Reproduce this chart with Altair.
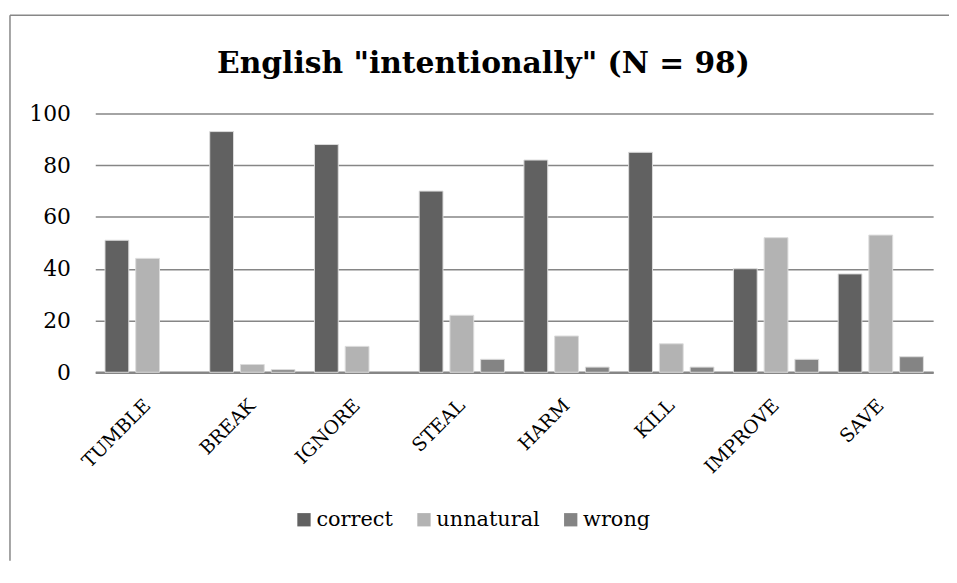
import altair as alt
import pandas as pd

categories = ["TUMBLE", "BREAK", "IGNORE", "STEAL", "HARM", "KILL", "IMPROVE", "SAVE"]
correct = [51, 93, 88, 70, 82, 85, 40, 38]
unnatural = [44, 3, 10, 22, 14, 11, 52, 53]
wrong = [0, 1, 0, 5, 2, 2, 5, 6]
series = ["correct", "unnatural", "wrong"]
colors = ["#616161", "#b3b3b3", "#848484"]
y_ticks = [0, 20, 40, 60, 80, 100]
title_text = 'English "intentionally" (N = 98)'

rows = []
for i, c in enumerate(categories):
    for s, vals in zip(series, [correct, unnatural, wrong]):
        rows.append({"verb": c, "answer": s, "value": vals[i]})
df = pd.DataFrame(rows)

FONT = "DejaVu Serif"
W, H = 845, 261
PAD = {"left": 88, "top": 104, "right": 16, "bottom": 190}

bars = alt.Chart(df).mark_bar(stroke="#dcdcdc").encode(
    x=alt.X("verb:N", sort=categories,
            scale=alt.Scale(paddingInner=0.186, paddingOuter=0.093),
            axis=alt.Axis(title=None, labelAngle=315, labelAlign="right",
                          labelBaseline="middle", labelPadding=30,
                          labelFont=FONT, labelFontSize=19, labelColor="#000000",
                          ticks=False, domainColor="#868686", domainWidth=2.5,
                          grid=False)),
    xOffset=alt.XOffset("answer:N", sort=series,
                        scale=alt.Scale(paddingInner=0.226, paddingOuter=0)),
    y=alt.Y("value:Q", scale=alt.Scale(domain=[0, 100]),
            axis=alt.Axis(title=None, values=y_ticks, ticks=False, domain=False,
                          labelPadding=25, labelFont=FONT, labelFontSize=22,
                          labelColor="#000000", gridColor="#868686",
                          gridWidth=1.5)),
    color=alt.Color("answer:N", sort=series,
                    scale=alt.Scale(domain=series, range=colors),
                    legend=alt.Legend(title=None, orient="none", legendX=200,
                                      legendY=399, direction="horizontal",
                                      symbolType="square", symbolSize=180,
                                      symbolStrokeWidth=0, labelFont=FONT,
                                      labelFontSize=21, labelColor="#000000",
                                      columnPadding=20, labelOffset=2)),
    strokeWidth=alt.condition(alt.datum.value > 0, alt.value(1), alt.value(0)),
)

frame_src = pd.DataFrame({"k": [0]})
border_top = alt.Chart(frame_src).mark_rule(color="#878787", strokeWidth=1.5).encode(
    x=alt.value(-86), x2=alt.value(W + PAD["right"]), y=alt.value(-99))
border_left = alt.Chart(frame_src).mark_rule(color="#878787", strokeWidth=1.5).encode(
    x=alt.value(-86), y=alt.value(-99), y2=alt.value(H + PAD["bottom"]))

title = alt.Chart(pd.DataFrame({"t": [title_text]})).mark_text(
    font=FONT, fontSize=30, fontWeight="bold", color="#000000",
    align="center", baseline="alphabetic"
).encode(text="t:N", x=alt.value(391.5), y=alt.value(-41))

chart = alt.layer(border_top, border_left, bars, title).properties(
    width=W, height=H,
    autosize=alt.AutoSizeParams(type="none"),
    padding=PAD,
).configure_view(stroke=None)

chart.save("out.html", embed_options={"renderer": "svg", "actions": False})
